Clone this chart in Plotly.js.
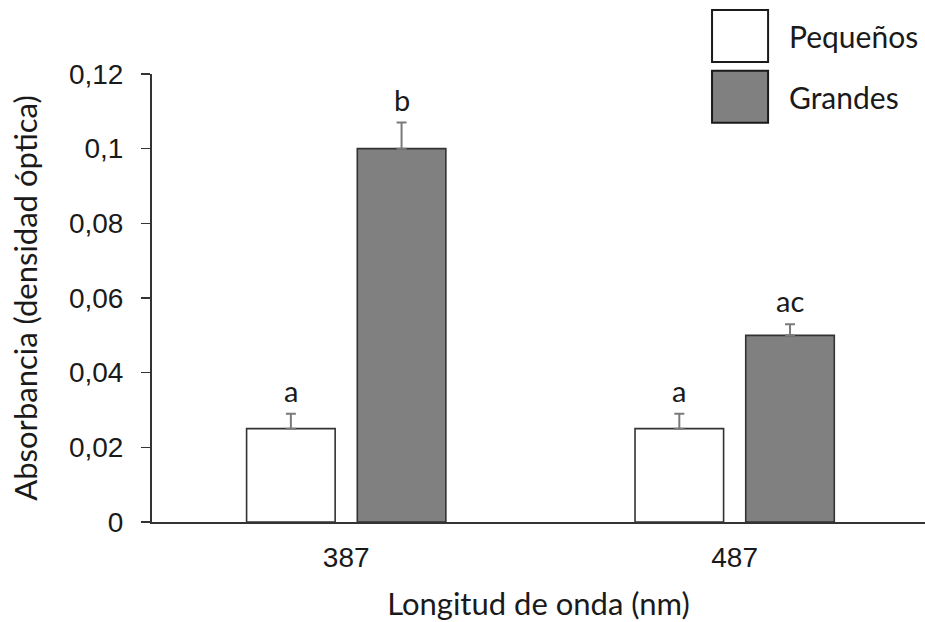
<!DOCTYPE html>
<html>
<head>
<meta charset="utf-8">
<script src="https://cdn.plot.ly/plotly-3.0.1.min.js"></script>
<style>html,body{margin:0;padding:0;background:#fff;}#chart{width:925px;height:622px;}</style>
</head>
<body>
<div id="chart"></div>
<script>
// ---- data ----
const categories = ["387", "487"];
const seriesNames = ["Pequeños", "Grandes"];
const pequenos = [0.025, 0.025];
const pequenosErr = [0.004, 0.004];
const grandes = [0.100, 0.050];
const grandesErr = [0.007, 0.003];
const pequenosLetters = ["a", "a"];
const grandesLetters = ["b", "ac"];
const yTickVals = [0, 0.02, 0.04, 0.06, 0.08, 0.1, 0.12];

// ---- style ----
const fillColors = ["#ffffff", "#808080"];
const outline = "#333333";
const errColor = "#7a7a7a";
const bargap = 0.43;
const bargroupgap = 0.2;
const titleFont = "Lato, 'Open Sans', sans-serif";
const tickFont = "'Liberation Sans', Arial, sans-serif";

const values = [pequenos, grandes];
const errs = [pequenosErr, grandesErr];
const letters = [pequenosLetters, grandesLetters];

const traces = values.map((v, i) => ({
  type: "bar",
  name: seriesNames[i],
  x: categories,
  y: v,
  marker: { color: fillColors[i], line: { color: outline, width: 1.6 } },
  error_y: { type: "data", symmetric: false, array: errs[i], arrayminus: v.map(() => 0),
             color: errColor, thickness: 2, width: 5 },
  showlegend: false,
  hoverinfo: "skip"
}));

// letters above error bars, positioned from category index & group geometry
const slot = (1 - bargap) / 2;
const annotations = [];
values.forEach((v, i) => {
  v.forEach((val, j) => {
    annotations.push({
      xref: "x", yref: "y",
      x: j + (i - 0.5) * slot,
      y: val + errs[i][j],
      text: letters[i][j],
      showarrow: false,
      yanchor: "bottom",
      yshift: 4,
      font: { family: titleFont, size: 29, color: "#1a1a1a" }
    });
  });
});

// custom legend (large boxes) in paper coordinates
const shapes = [];
const legBoxX = [0.7245, 0.797];
const legBoxY = [[1.027, 1.143], [0.891, 1.007]];
seriesNames.forEach((name, i) => {
  shapes.push({
    type: "rect", xref: "paper", yref: "paper",
    x0: legBoxX[0], x1: legBoxX[1], y0: legBoxY[i][0], y1: legBoxY[i][1],
    fillcolor: fillColors[i], line: { color: "#1a1a1a", width: 2 }
  });
  annotations.push({
    xref: "paper", yref: "paper",
    x: 0.8215, y: (legBoxY[i][0] + legBoxY[i][1]) / 2,
    xanchor: "left", yanchor: "middle",
    text: name, showarrow: false,
    font: { family: titleFont, size: 30, color: "#1a1a1a" }
  });
});

const layout = {
  width: 925, height: 622,
  margin: { l: 152, r: 0, t: 74, b: 100, pad: 0 },
  paper_bgcolor: "#ffffff",
  plot_bgcolor: "#ffffff",
  separators: ", ",
  barmode: "group",
  bargap: bargap,
  bargroupgap: bargroupgap,
  showlegend: false,
  xaxis: {
    type: "category",
    range: [-0.5, 1.49],
    showline: true, linecolor: "#333333", linewidth: 2,
    ticks: "", showgrid: false, zeroline: false,
    ticklabelstandoff: 9,
    tickfont: { family: tickFont, size: 28, color: "#1a1a1a" },
    title: { text: "Longitud de onda (nm)", standoff: 28,
             font: { family: titleFont, size: 31, color: "#1a1a1a" } }
  },
  yaxis: {
    range: [0, 0.12],
    tickvals: yTickVals,
    showline: true, linecolor: "#333333", linewidth: 2,
    ticks: "outside", ticklen: 9, tickwidth: 1.5, tickcolor: "#333333",
    showgrid: false, zeroline: false,
    ticklabelstandoff: 12,
    tickfont: { family: tickFont, size: 28, color: "#1a1a1a" },
    title: { text: "Absorbancia (densidad óptica)", standoff: 22,
             font: { family: titleFont, size: 31, color: "#1a1a1a" } }
  },
  annotations: annotations,
  shapes: shapes
};

Plotly.newPlot("chart", traces, layout, { staticPlot: true, displayModeBar: false });
</script>
</body>
</html>
